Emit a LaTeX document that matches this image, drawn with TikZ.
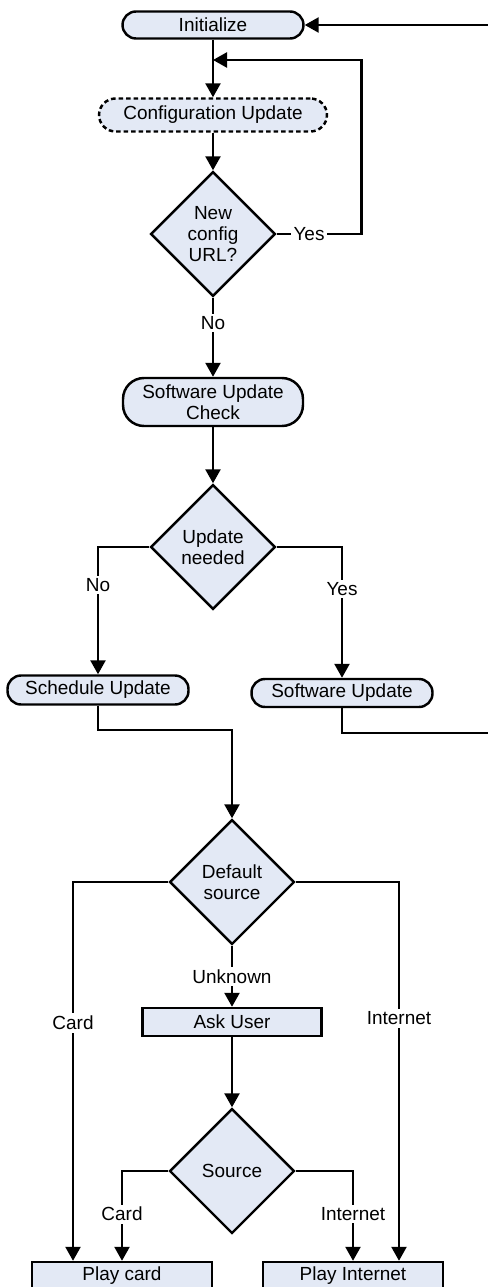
\documentclass[tikz,border=0pt]{standalone}
\usepackage{fontspec}
\setmainfont{Liberation Sans}
\usepackage{xcolor}
\usepackage{tikz}
\usetikzlibrary{shapes.geometric, positioning, arrows.meta}
\definecolor{BoxFill}{RGB}{227,233,245}

\begin{document}
\begin{tikzpicture}[x=0.02cm, y=-0.02cm, line width=1.4pt,
    font=\fontsize{10.8}{12}\selectfont,
    termbox/.style={draw, fill=BoxFill, rounded corners=0.27cm, minimum width=3.62cm, minimum height=0.54cm, inner sep=1pt, align=center},
    procbox/.style={draw, fill=BoxFill, minimum width=3.6cm, minimum height=0.56cm, inner sep=1pt},
    decision/.style={draw, diamond, fill=BoxFill, minimum width=2.5cm, minimum height=2.5cm, inner sep=0pt, align=center},
    flow/.style={-{Triangle[length=0.28cm, width=0.3cm]}},
    lbl/.style={fill=white, inner sep=1.5pt}]
        \useasboundingbox (0,0) rectangle (487,1287);
        % Start and configuration loop
        \node[termbox] (init) at (213,25) {Initialize};
        \node[termbox, dash pattern=on 0.09cm off 0.06cm, minimum width=4.56cm, minimum height=0.66cm, rounded corners=0.33cm]
              (cfgupd) at (213,115) {Configuration Update};
        \node[decision] (newurl) at (213,234) {New\\config\\URL?};
        \coordinate (loopin) at (213,60);
        \coordinate (ret) at (493,732);
        % Software update
        \node[termbox, minimum width=3.6cm, minimum height=0.96cm, rounded corners=0.42cm]
              (swcheck) at (213,402) {Software Update\\Check};
        \node[decision] (updneed) at (213,547) {Update\\needed};
        \node[termbox, minimum height=0.58cm] (sched) at (98,690) {Schedule Update};
        \node[termbox, minimum height=0.56cm] (swupd) at (342,693) {Software Update};
        % Source selection
        \node[decision] (defsrc) at (232,882) {Default\\source};
        \node[procbox, minimum width=3.58cm] (askuser) at (232,1022) {Ask User};
        \node[decision] (source) at (232,1171) {Source};
        \node[procbox] (playcard) at (122,1276) {Play card};
        \node[procbox] (playnet) at (353,1276) {Play Internet};
        % Connectors
        \draw[flow] (init) -- (cfgupd);
        \draw[flow] (cfgupd) -- (newurl);
        \draw[flow] (newurl.east) -- node[lbl, pos=.38] {Yes} ++(85,0) |- (loopin);
        \draw[flow] (newurl) -- node[lbl, pos=.32] {No} (swcheck);
        \draw[flow] (swcheck) -- (updneed);
        \draw[flow] (updneed.west) -| node[lbl, pos=.65] {No} (sched.north);
        \draw[flow] (updneed.east) -| node[lbl, pos=.66] {Yes} (swupd.north);
        \draw[flow] (sched.south) -- ++(0,24) -| (defsrc.north);
        \draw[flow] (swupd.south) -- ++(0,25) -| (ret) |- (init.east);
        \draw[flow] (defsrc.west) -| node[lbl, pos=.686] {Card} ([xshift=-0.98cm]playcard.north);
        \draw[flow] (defsrc.east) -| node[lbl, pos=.68] {Internet} ([xshift=0.92cm]playnet.north);
        \draw[flow] (defsrc) -- node[lbl] {Unknown} (askuser);
        \draw[flow] (askuser) -- (source);
        \draw[flow] (source.west) -| node[lbl, pos=.74] {Card} (playcard.north);
        \draw[flow] (source.east) -| node[lbl, pos=.74] {Internet} (playnet.north);
      \end{tikzpicture}
\end{document}
